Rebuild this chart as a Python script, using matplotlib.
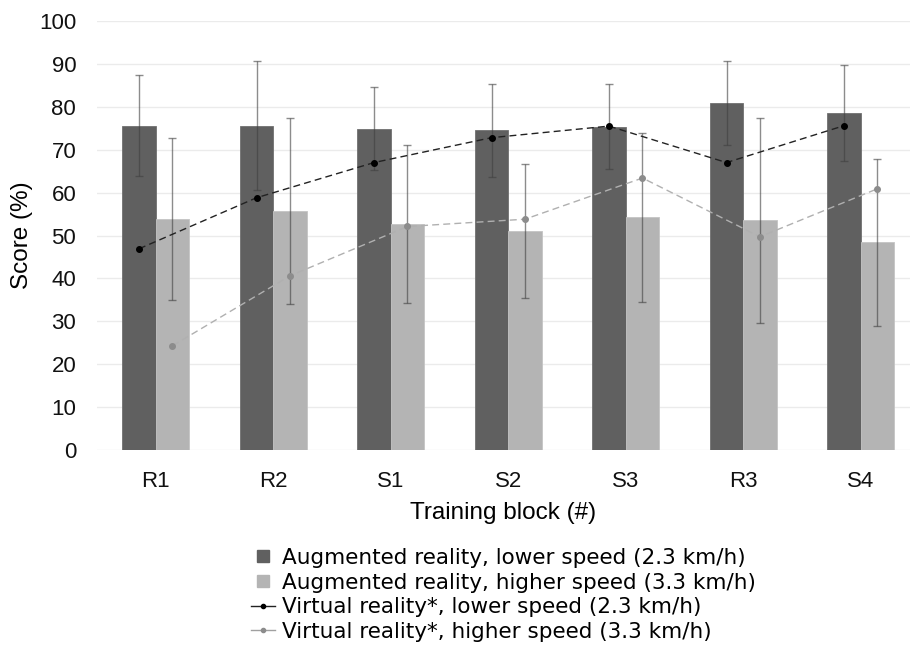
import numpy as np
import matplotlib.pyplot as plt
from matplotlib.lines import Line2D

# training blocks and scores (%)
blocks = ["R1", "R2", "S1", "S2", "S3", "R3", "S4"]
ar_low = [75.6, 75.6, 74.9, 74.5, 75.3, 80.8, 78.5]
ar_low_sd = [11.7, 15.0, 9.6, 10.8, 9.9, 9.8, 11.2]
ar_high = [53.9, 55.7, 52.7, 51.0, 54.2, 53.6, 48.4]
ar_high_sd = [18.9, 21.6, 18.4, 15.6, 19.6, 23.9, 19.4]
vr_low = [46.9, 58.8, 67.0, 72.8, 75.5, 67.0, 75.6]
vr_high = [24.3, 40.6, 52.1, 53.8, 63.4, 49.7, 60.9]

dark = "#606060"
light = "#b4b4b4"
err_col = "#404040"

plt.rcParams["font.family"] = ["Liberation Sans", "DejaVu Sans"]

fig = plt.figure(figsize=(9.1, 6.54), dpi=100)
ax = fig.add_axes([97 / 910, 204 / 654, 813 / 910, 429 / 654])

x = np.arange(len(blocks))
w = 0.285

ax.bar(x - w / 2, ar_low, w, color=dark, edgecolor="#707070", linewidth=0.6, zorder=2)
ax.bar(x + w / 2, ar_high, w, color=light, edgecolor="#c4c4c4", linewidth=0.6, zorder=2)

# error bars are semi-transparent, so they read darker over the bars
ax.errorbar(x - w / 2, ar_low, yerr=ar_low_sd, fmt="none", ecolor=err_col,
            elinewidth=1.0, capsize=3, capthick=1.0, alpha=0.6, zorder=3)
ax.errorbar(x + w / 2, ar_high, yerr=ar_high_sd, fmt="none", ecolor=err_col,
            elinewidth=1.0, capsize=3, capthick=1.0, alpha=0.6, zorder=3)

ax.plot(x - w / 2, vr_low, color="#222222", linestyle=(0, (5, 3)), linewidth=1.0,
        marker="o", markersize=4, markerfacecolor="black", markeredgecolor="black", zorder=4)
ax.plot(x + w / 2, vr_high, color="#b0b0b0", linestyle=(0, (5, 3)), linewidth=1.0,
        marker="o", markersize=4, markerfacecolor="#8c8c8c", markeredgecolor="#8c8c8c", zorder=4)

ax.set_ylim(0, 100)
ax.set_xlim(-0.5, -0.5 + 813 / 117.5)
ax.set_yticks(range(0, 101, 10))
ax.set_xticks(x)
ax.set_xticklabels(blocks)
ax.tick_params(axis="both", length=0, labelsize=16, colors="#111111")
ax.tick_params(axis="y", pad=15)
ax.tick_params(axis="x", pad=15)
ax.grid(axis="y", color="#ebebeb", linewidth=1.0, zorder=0)
ax.set_axisbelow(True)
for s in ax.spines.values():
    s.set_visible(False)

ax.set_ylabel("Score (%)", fontsize=17.5, labelpad=4)
ax.set_xlabel("Training block (#)", fontsize=17.5, labelpad=7)

handles = [
    Line2D([], [], linestyle="none", marker="s", markersize=8,
           markerfacecolor=dark, markeredgecolor=dark),
    Line2D([], [], linestyle="none", marker="s", markersize=8,
           markerfacecolor=light, markeredgecolor=light),
    Line2D([], [], color="#222222", linewidth=1.0, marker="o", markersize=3,
           markerfacecolor="black", markeredgecolor="black"),
    Line2D([], [], color="#a0a0a0", linewidth=1.0, marker="o", markersize=3,
           markerfacecolor="#8c8c8c", markeredgecolor="#8c8c8c"),
]
labels = [
    "Augmented reality, lower speed (2.3 km/h)",
    "Augmented reality, higher speed (3.3 km/h)",
    "Virtual reality*, lower speed (2.3 km/h)",
    "Virtual reality*, higher speed (3.3 km/h)",
]
leg = fig.legend(handles, labels, loc="upper left", bbox_to_anchor=(251 / 910, 1 - 548 / 654),
                 frameon=False, prop={"family": "DejaVu Sans", "size": 15.5},
                 handlelength=1.1, handletextpad=0.35,
                 labelspacing=0.21, borderpad=0, borderaxespad=0)

fig.savefig("out.png", dpi=100, facecolor="white")
